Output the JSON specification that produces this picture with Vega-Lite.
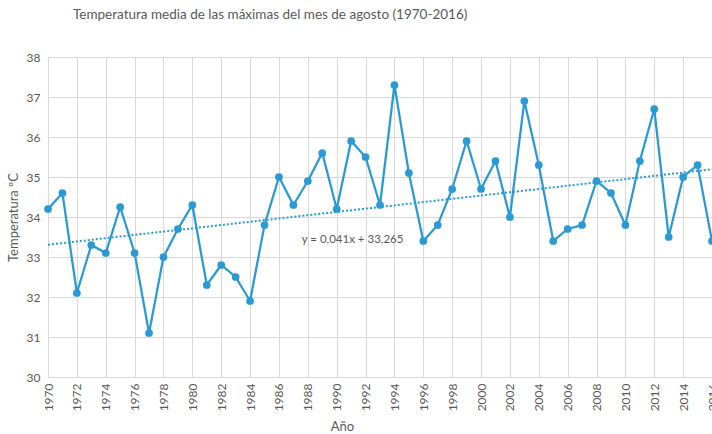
{
  "$schema": "https://vega.github.io/schema/vega-lite/v6.json",
  "autosize": {"type": "none"},
  "padding": {"left": 48, "top": 57, "right": 0, "bottom": 57},
  "width": 664,
  "height": 320,
  "background": "white",
  "title": {
    "text": "Temperatura media de las máximas del mes de agosto (1970-2016)",
    "anchor": "start",
    "frame": "group",
    "dx": 25,
    "offset": 30,
    "font": "Lato",
    "fontSize": 13.5,
    "fontWeight": "normal",
    "color": "#595959"
  },
  "config": {
    "view": {"stroke": null},
    "font": "Lato",
    "axis": {
      "gridColor": "#d9d9d9",
      "gridWidth": 1,
      "domain": false,
      "ticks": false,
      "labelColor": "#595959",
      "titleColor": "#595959",
      "labelFont": "Lato",
      "titleFont": "Lato",
      "labelFontSize": 12,
      "titleFontSize": 13,
      "titleFontWeight": "normal"
    }
  },
  "data": {
    "values": [
      {"year": 1970, "temp": 34.2},
      {"year": 1971, "temp": 34.6},
      {"year": 1972, "temp": 32.1},
      {"year": 1973, "temp": 33.3},
      {"year": 1974, "temp": 33.1},
      {"year": 1975, "temp": 34.25},
      {"year": 1976, "temp": 33.1},
      {"year": 1977, "temp": 31.1},
      {"year": 1978, "temp": 33.0},
      {"year": 1979, "temp": 33.7},
      {"year": 1980, "temp": 34.3},
      {"year": 1981, "temp": 32.3},
      {"year": 1982, "temp": 32.8},
      {"year": 1983, "temp": 32.5},
      {"year": 1984, "temp": 31.9},
      {"year": 1985, "temp": 33.8},
      {"year": 1986, "temp": 35.0},
      {"year": 1987, "temp": 34.3},
      {"year": 1988, "temp": 34.9},
      {"year": 1989, "temp": 35.6},
      {"year": 1990, "temp": 34.2},
      {"year": 1991, "temp": 35.9},
      {"year": 1992, "temp": 35.5},
      {"year": 1993, "temp": 34.3},
      {"year": 1994, "temp": 37.3},
      {"year": 1995, "temp": 35.1},
      {"year": 1996, "temp": 33.4},
      {"year": 1997, "temp": 33.8},
      {"year": 1998, "temp": 34.7},
      {"year": 1999, "temp": 35.9},
      {"year": 2000, "temp": 34.7},
      {"year": 2001, "temp": 35.4},
      {"year": 2002, "temp": 34.0},
      {"year": 2003, "temp": 36.9},
      {"year": 2004, "temp": 35.3},
      {"year": 2005, "temp": 33.4},
      {"year": 2006, "temp": 33.7},
      {"year": 2007, "temp": 33.8},
      {"year": 2008, "temp": 34.9},
      {"year": 2009, "temp": 34.6},
      {"year": 2010, "temp": 33.8},
      {"year": 2011, "temp": 35.4},
      {"year": 2012, "temp": 36.7},
      {"year": 2013, "temp": 33.5},
      {"year": 2014, "temp": 35.0},
      {"year": 2015, "temp": 35.3},
      {"year": 2016, "temp": 33.4}
    ]
  },
  "encoding": {
    "x": {
      "field": "year",
      "type": "quantitative",
      "scale": {"domain": [1970, 2016], "nice": false, "zero": false},
      "axis": {
        "title": "Año",
        "format": "d",
        "values": [1970,1972,1974,1976,1978,1980,1982,1984,1986,1988,1990,1992,1994,1996,1998,2000,2002,2004,2006,2008,2010,2012,2014,2016],
        "labelAngle": -90,
        "labelAlign": "right",
        "labelBaseline": "middle",
        "labelPadding": 6,
        "labelFlush": false,
        "labelOverlap": false,
        "titlePadding": 10,
        "titleX": 294
      }
    },
    "y": {
      "field": "temp",
      "type": "quantitative",
      "scale": {"domain": [30, 38], "nice": false, "zero": false},
      "axis": {
        "title": "Temperatura ºC",
        "values": [30,31,32,33,34,35,36,37,38],
        "labelOverlap": false,
        "labelPadding": 8,
        "titlePadding": 6
      }
    }
  },
  "layer": [
    {
      "transform": [{"regression": "temp", "on": "year"}],
      "mark": {"type": "line", "color": "#2a9ad6", "strokeWidth": 2, "strokeDash": [2, 2], "clip": true}
    },
    {
      "mark": {"type": "line", "color": "#2a9ad6", "strokeWidth": 2.25, "clip": false}
    },
    {
      "mark": {"type": "point", "filled": true, "color": "#2a9ad6", "size": 60, "opacity": 1}
    },
    {
      "data": {"values": [{"year": 1991.1, "temp": 33.43, "label": "y = 0,041x + 33,265"}]},
      "mark": {"type": "text", "font": "Lato", "fontSize": 11.5, "color": "#595959"},
      "encoding": {
        "x": {"field": "year", "type": "quantitative"},
        "y": {"field": "temp", "type": "quantitative"},
        "text": {"field": "label"}
      }
    }
  ]
}
